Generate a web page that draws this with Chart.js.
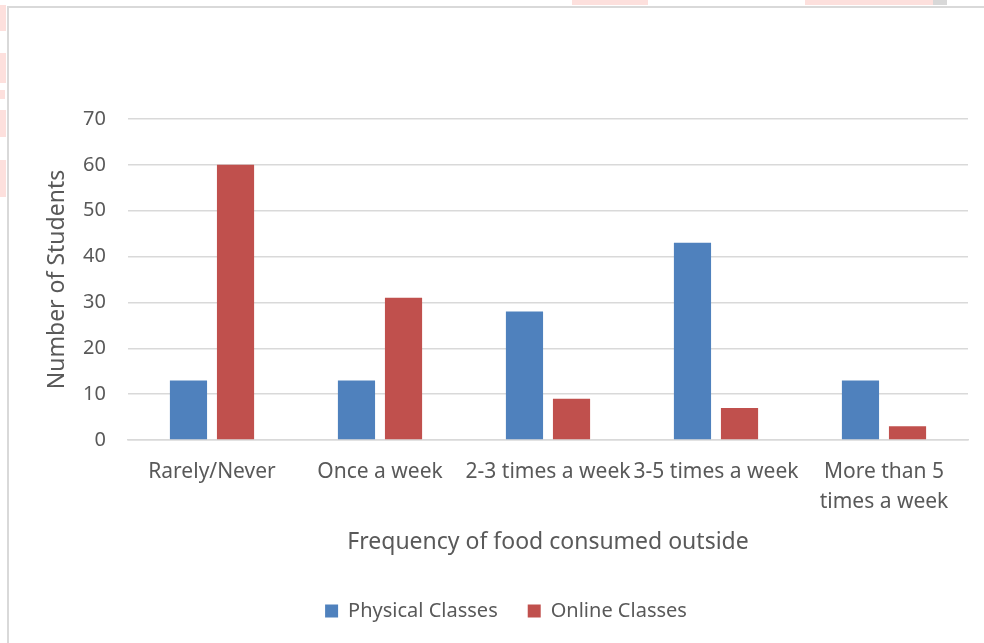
<!DOCTYPE html>
<html>
<head>
<meta charset="utf-8">
<script src="https://cdn.jsdelivr.net/npm/chart.js@4/dist/chart.umd.min.js"></script>
<style>
  html, body { margin: 0; padding: 0; background: #fff; overflow: hidden; }
  body { width: 984px; height: 643px; position: relative; }
  .frame { position: absolute; left: 7px; top: 6px; width: 990px; height: 650px;
           border-left: 2px solid #d9d9d9; border-top: 2px solid #d9d9d9; box-sizing: border-box; }
  .wrap { position: absolute; left: 8px; top: 7px; width: 976px; height: 636px; }
  .blot { position: absolute; background: #fde0dd; }
</style>
</head>
<body>
<!-- page marks around the figure frame -->
<div class="blot" style="left:572px;top:0;width:76px;height:5px"></div>
<div class="blot" style="left:805px;top:0;width:128px;height:5px"></div>
<div class="blot" style="left:933px;top:0;width:14px;height:5px;background:#d8d8d8"></div>
<div class="blot" style="left:0;top:5px;width:6px;height:26px"></div>
<div class="blot" style="left:0;top:53px;width:6px;height:30px"></div>
<div class="blot" style="left:0;top:90px;width:5px;height:9px"></div>
<div class="blot" style="left:0;top:110px;width:6px;height:27px"></div>
<div class="blot" style="left:0;top:160px;width:6px;height:37px"></div>
<div class="frame"></div>
<div class="wrap"><canvas id="foodChart" width="976" height="636"></canvas></div>
<script>
// frequency of eating outside, physical vs online classes
const categories = ['Rarely/Never', 'Once a week', '2-3 times a week', '3-5 times a week', ['More than 5', 'times a week']];
const physicalClasses = [13, 13, 28, 43, 13];
const onlineClasses = [60, 31, 9, 7, 3];
const yTicks = [0, 10, 20, 30, 40, 50, 60, 70];

const ink = '#595959';
const line = '#d9d9d9';
const font = '"Noto Sans", Lato, sans-serif';

// legend sits a little right of the canvas centre
const legendShift = {
  id: 'legendShift',
  afterLayout(chart) {
    chart.legend.left += 18;
    chart.legend.right += 18;
  }
};

new Chart(document.getElementById('foodChart'), {
  type: 'bar',
  data: {
    labels: categories,
    datasets: [
      { label: 'Physical Classes', data: physicalClasses, backgroundColor: '#4f81bd', barPercentage: 0.79, categoryPercentage: 0.56 },
      { label: 'Online Classes', data: onlineClasses, backgroundColor: '#c0504d', barPercentage: 0.79, categoryPercentage: 0.56 }
    ]
  },
  plugins: [legendShift],
  options: {
    responsive: false,
    animation: false,
    layout: { padding: { top: 112, right: 16, left: 0, bottom: 12 } },
    plugins: {
      tooltip: { enabled: false },
      legend: {
        position: 'bottom',
        labels: { color: ink, boxWidth: 13, boxHeight: 13, padding: 30, font: { family: font, size: 20 } }
      }
    },
    scales: {
      x: {
        grid: { display: false, drawTicks: false },
        border: { color: line, width: 1.5 },
        ticks: { color: ink, maxRotation: 0, minRotation: 0, autoSkip: false, padding: 17,
                 font: { family: font, size: 21, lineHeight: 1.42 } },
        title: { display: true, text: 'Frequency of food consumed outside', color: ink,
                 font: { family: font, size: 23 }, padding: { top: 0, bottom: 15 } },
        afterFit(scale) { scale.height = 131; }
      },
      y: {
        min: 0, max: 70,
        afterBuildTicks(scale) { scale.ticks = yTicks.map(v => ({ value: v })); },
        grid: { color: line, lineWidth: 1.5, drawTicks: false },
        border: { display: false },
        ticks: { color: ink, padding: 22, font: { family: font, size: 20 } },
        title: { display: true, text: 'Number of Students', color: ink,
                 font: { family: font, size: 23 }, padding: { top: 36, bottom: 0 } },
        afterFit(scale) { scale.width = 120; }
      }
    }
  }
});
</script>
</body>
</html>
